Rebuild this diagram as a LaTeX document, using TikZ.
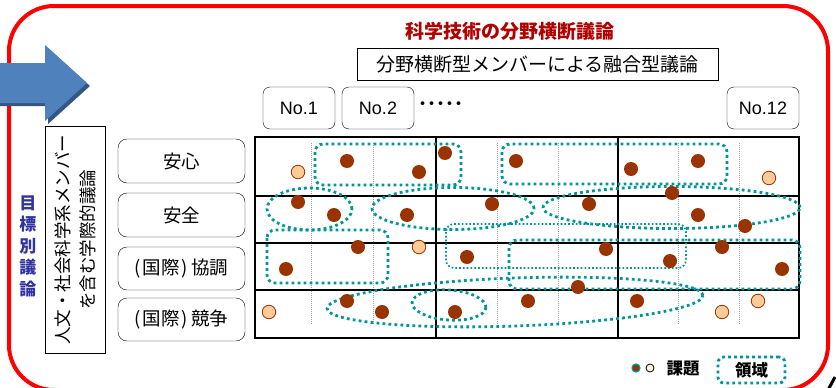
\documentclass[tikz,border=0pt]{standalone}
\usepackage{fontspec}
\setmainfont{Liberation Sans}
\newfontfamily\jp{Noto Sans CJK JP}
\usetikzlibrary{shapes.geometric}
\definecolor{frame}{RGB}{255,0,0}
\definecolor{titlered}{RGB}{176,0,0}
\definecolor{teal2}{RGB}{0,150,150}
\definecolor{dotdark}{RGB}{153,51,0}
\definecolor{dotlight}{RGB}{255,204,153}
\definecolor{legcream}{RGB}{255,242,214}
\definecolor{purpleblue}{RGB}{51,51,160}
\definecolor{arrowblue}{RGB}{79,129,189}
\definecolor{arrowshade}{RGB}{52,86,130}
\definecolor{minorgray}{RGB}{160,160,160}
\tikzset{
  hdr/.style={draw, rounded corners=7pt, minimum width=72pt, minimum height=42pt, inner sep=0pt, font=\fontsize{18}{20}\selectfont},
  rowbox/.style={draw, rounded corners=9pt, minimum width=127pt, inner sep=0pt, font=\jp\fontsize{18.5}{20}\selectfont},
  dk/.style={circle, fill=dotdark, minimum size=14pt, inner sep=0pt},
  lt/.style={circle, fill=dotlight, draw=dotdark, line width=0.8pt, minimum size=13.5pt, inner sep=0pt},
  reg/.style={draw=teal2, line width=2.8pt, dash pattern=on 2.8pt off 3.2pt},
  regthin/.style={draw=teal2, line width=1.7pt, dash pattern=on 1.7pt off 2.1pt},
  gridline/.style={line width=1.5pt, black},
  minorline/.style={draw=minorgray, line width=0.6pt, dash pattern=on 1pt off 1pt}
}
\begin{document}
\begin{tikzpicture}[x=1pt, y=-1pt]
\useasboundingbox (0,0) rectangle (836,388);
% red frame
\draw[frame, line width=4pt, rounded corners=45pt] (9,6) rectangle (828,390);
% blue arrow
\fill[arrowshade] (-5,66) -- (48,66) -- (48,48) -- (90,86) -- (48,124) -- (48,106) -- (-5,106) -- cycle;
\fill[arrowblue] (-5,63) -- (45,63) -- (45,45) -- (87,83) -- (45,121) -- (45,103) -- (-5,103) -- cycle;
% title and top box
\node[font=\jp\bfseries\fontsize{19}{21}\selectfont, text=titlered] (title) at (510,31) {科学技術の分野横断議論};
\node[draw, minimum width=361pt, minimum height=32pt, inner sep=0pt, font=\jp\fontsize{19}{21}\selectfont] (fusion) at (537.5,64) {分野横断型メンバーによる融合型議論};
% column headers
\node[hdr] (no1) at (299,108) {No.1};
\node[hdr] (no2) at (378,108) {No.2};
\node[font=\jp\bfseries\fontsize{18}{20}\selectfont] (dots) at (441,106) {･････};
\node[hdr] (no12) at (763,108) {No.12};
% left labels
\node[font=\jp\bfseries\fontsize{17}{21.5}\selectfont, text=purpleblue, align=center] (goal) at (28,246) {目\\標\\別\\議\\論};
\node[draw, rotate=90, minimum width=227pt, minimum height=60pt, inner sep=0pt, align=center, font=\jp\fontsize{17.5}{25}\selectfont] (human) at (75,239.5) {人文・社会科学系メンバー\\を含む学際的議論};
% row labels
\node[rowbox, minimum height=44pt] (r1) at (181.5,161) {安心};
\node[rowbox, minimum height=44pt] (r2) at (181.5,215) {安全};
\node[rowbox, minimum height=43pt] (r3) at (181.5,268.5) {(\kern2pt 国際\kern2pt)\kern3pt 協調};
\node[rowbox, minimum height=43pt] (r4) at (181.5,319.5) {(\kern2pt 国際\kern2pt)\kern3pt 競争};
% grid
\foreach \xx in {311,373,497,558,678,739} \draw[minorline] (\xx,143) -- (\xx,325);
\draw[gridline] (255,137) rectangle (799,338);
\foreach \yy in {196,243,290} \draw[gridline] (255,\yy) -- (799,\yy);
\foreach \xx in {436,618} \draw[gridline] (\xx,137) -- (\xx,338);
% regions
\draw[reg, rounded corners=8pt] (315,144) rectangle (461,185);
\draw[reg, rounded corners=8pt] (502,144) rectangle (727,184);
\draw[reg] (309.5,209) ellipse [x radius=42.5pt, y radius=21pt];
\draw[reg] (453,208.5) ellipse [x radius=81pt, y radius=21pt];
\draw[reg] (671.5,207.5) ellipse [x radius=128.5pt, y radius=21pt];
\draw[reg, rounded corners=8pt] (267,230) rectangle (388,283);
\draw[regthin, rounded corners=8pt] (446,224) rectangle (686,268);
\draw[reg, rounded corners=8pt] (509,240) rectangle (800,289);
\draw[reg, shift={(515,302)}, rotate=2] (0,0) ellipse [x radius=188pt, y radius=24pt];
\draw[reg, shift={(449,305)}, rotate=-4] (0,0) ellipse [x radius=37pt, y radius=15pt];
% dots
\foreach \px/\py [count=\i] in {347/161,419/172,445/153,516/161,631/169,698/161,672/193,
  298/202,334/215,407/215,492/204,589/204,698/215,745/226,
  358/247,467/257,286/269,606/249,670/261,722/247,782/269,578/287,
  347/301,382/312,455/312,528/301,637/301}
  \node[dk] (dk\i) at (\px,\py) {};
\foreach \px/\py [count=\i] in {298/172,769/178,419/247,269/312,722/312,758/301}
  \node[lt] (lt\i) at (\px,\py) {};
% legend
\node[circle, fill=dotdark, draw=teal2, line width=1.2pt, minimum size=8pt, inner sep=0pt] (legdk) at (636,368) {};
\node[circle, fill=legcream, draw=black, line width=0.8pt, minimum size=8pt, inner sep=0pt] (leglt) at (650,368) {};
\node[font=\jp\bfseries\fontsize{16.5}{18}\selectfont, anchor=west] (legtxt) at (663,369) {課題};
\node[reg, rounded corners=6pt, minimum width=67pt, minimum height=26pt, inner sep=0pt, font=\jp\bfseries\fontsize{16.5}{18}\selectfont] (legreg) at (751.5,370) {領域};
% cut-off mark at bottom right
\draw[line width=3pt] (828,390) -- (835,377);
\end{tikzpicture}
\end{document}
